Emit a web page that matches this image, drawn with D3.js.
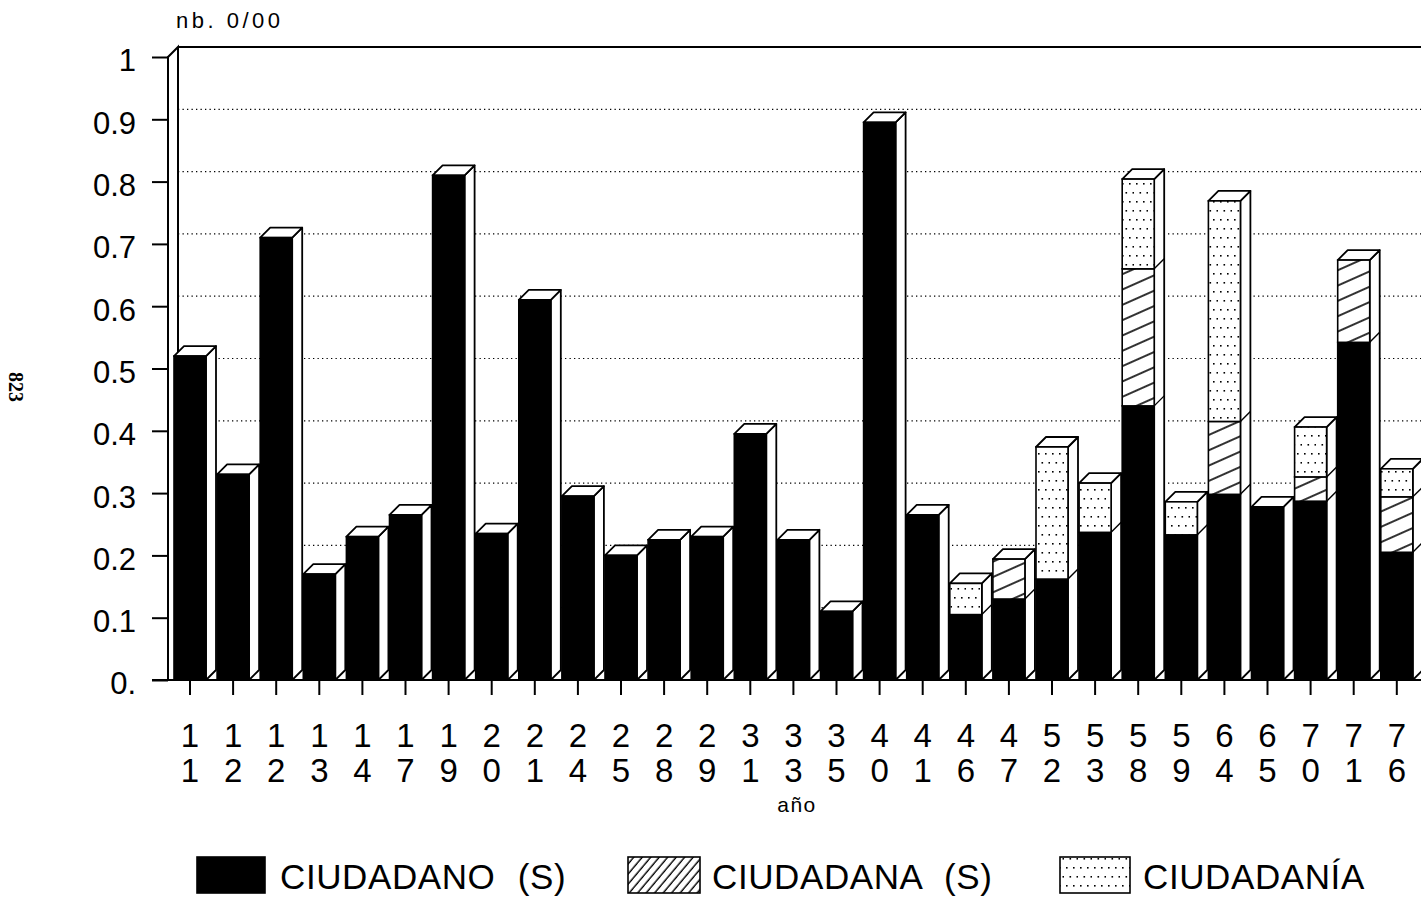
<!DOCTYPE html>
<html>
<head>
<meta charset="utf-8">
<script src="https://cdn.jsdelivr.net/npm/d3@7/dist/d3.min.js"></script>
<style>
  html, body { margin: 0; padding: 0; background: #fff; }
  svg { display: block; }
  text { font-family: "Liberation Sans", Arial, sans-serif; fill: #000; }
</style>
</head>
<body>
<svg id="chart" width="1421" height="898"></svg>
<script>
// ---- data ----
const categories = ["11","12","12","13","14","17","19","20","21","24","25","28","29","31","33","35","40","41","46","47","52","53","58","59","64","65","70","71","76"];
const ciudadano  = [0.52,0.33,0.71,0.17,0.23,0.265,0.81,0.235,0.61,0.295,0.20,0.225,0.23,0.395,0.225,0.11,0.895,0.265,0.105,0.13,0.162,0.237,0.44,0.233,0.298,0.278,0.287,0.542,0.205];
const ciudadana  = [0,0,0,0,0,0,0,0,0,0,0,0,0,0,0,0,0,0,0,0.064,0,0,0.22,0,0.117,0,0.039,0.132,0.089];
const ciudadania = [0,0,0,0,0,0,0,0,0,0,0,0,0,0,0,0,0,0,0.05,0,0.212,0.079,0.144,0.053,0.354,0,0.08,0,0.045];
const seriesNames = ["CIUDADANO (S)", "CIUDADANA (S)", "CIUDADANÍA"];
const yTickValues = [0,0.1,0.2,0.3,0.4,0.5,0.6,0.7,0.8,0.9,1];
const yTickLabels = ["0.","0.1","0.2","0.3","0.4","0.5","0.6","0.7","0.8","0.9","1"];

// ---- layout ----
const svg = d3.select("#chart");
const DX = 10, DY = 10;
const x = d3.scaleBand().domain(d3.range(categories.length)).range([168.45, 1418.35]).padding(0);
const y = d3.scaleLinear().domain([0, 1]).range([680, 57]);
const halfW = 16;

// patterns
const defs = svg.append("defs");
const hatchBar = defs.append("pattern").attr("id","hatchBar").attr("patternUnits","userSpaceOnUse")
  .attr("width", 12).attr("height", 14).attr("patternTransform","rotate(-24)");
hatchBar.append("rect").attr("width",12).attr("height",14).attr("fill","#fff");
hatchBar.append("line").attr("x1",0).attr("x2",12).attr("y1",7).attr("y2",7).attr("stroke","#000").attr("stroke-width",1.6);

const hatchLeg = defs.append("pattern").attr("id","hatchLeg").attr("patternUnits","userSpaceOnUse")
  .attr("width", 8).attr("height", 6.5).attr("patternTransform","rotate(-50)");
hatchLeg.append("rect").attr("width",8).attr("height",6.5).attr("fill","#fff");
hatchLeg.append("line").attr("x1",0).attr("x2",8).attr("y1",3).attr("y2",3).attr("stroke","#000").attr("stroke-width",1.4);

const dots = defs.append("pattern").attr("id","dots").attr("patternUnits","userSpaceOnUse")
  .attr("width", 14).attr("height", 18);
dots.append("rect").attr("width",14).attr("height",18).attr("fill","#fff");
[[2,3],[9,3],[5.5,12],[12.5,12]].forEach(([px,py]) =>
  dots.append("rect").attr("x",px).attr("y",py).attr("width",1.6).attr("height",1.6).attr("fill","#000"));

const fills = ["#000", "url(#hatchBar)", "url(#dots)"];
const legFills = ["#000", "url(#hatchLeg)", "url(#dots)"];

// ---- back wall frame ----
const right = 1421;
svg.append("line").attr("x1", 178).attr("x2", right).attr("y1", y(1)-DY).attr("y2", y(1)-DY)
  .attr("stroke","#000").attr("stroke-width",2);
svg.append("g").selectAll("line").data(yTickValues.filter(v => v > 0 && v < 1)).join("line")
  .attr("x1", 178).attr("x2", right)
  .attr("y1", d => y(d)-DY).attr("y2", d => y(d)-DY)
  .attr("stroke","#000").attr("stroke-width",1.2).attr("stroke-dasharray","1.3,3.2");
svg.append("path")
  .attr("d", `M168,${y(0)} L168,${y(1)} L178,${y(1)-DY} L178,${y(0)-DY}`)
  .attr("fill","#fff").attr("stroke","#000").attr("stroke-width",2);

// ---- y axis ----
const yAxis = d3.axisLeft(y).tickValues(yTickValues).tickSize(16).tickPadding(16)
  .tickFormat((d,i) => yTickLabels[i]);
const gy = svg.append("g").attr("transform","translate(168,0)").call(yAxis);
gy.select(".domain").remove();
gy.selectAll(".tick line").attr("stroke","#000").attr("stroke-width",2);
gy.selectAll(".tick text").attr("font-size", 31).attr("dy","0.45em")
  .style("font-family","'Liberation Sans', Arial, sans-serif");

// ---- bars ----
const gBars = svg.append("g");
categories.forEach((c, i) => {
  const cx = x(i) + x.bandwidth()/2;
  const x0 = cx - halfW, x1 = cx + halfW;
  const vals = [ciudadano[i], ciudadana[i], ciudadania[i]];
  let base = 0;
  const segs = [];
  vals.forEach((v, k) => { if (v > 0) { segs.push({k, b: base, t: base + v}); base += v; } });
  const total = base;
  const g = gBars.append("g");
  g.append("path")
    .attr("d", `M${x1},${y(0)} L${x1},${y(total)} L${x1+DX},${y(total)-DY} L${x1+DX},${y(0)-DY} Z`)
    .attr("fill","#fff").attr("stroke","#000").attr("stroke-width",1.8).attr("stroke-linejoin","round");
  g.append("path")
    .attr("d", `M${x0},${y(total)} L${x0+DX},${y(total)-DY} L${x1+DX},${y(total)-DY} L${x1},${y(total)} Z`)
    .attr("fill","#fff").attr("stroke","#000").attr("stroke-width",1.8).attr("stroke-linejoin","round");
  segs.forEach(s => {
    g.append("rect").attr("x", x0).attr("y", y(s.t)).attr("width", x1-x0).attr("height", y(s.b)-y(s.t))
      .attr("fill", fills[s.k]).attr("stroke","#000").attr("stroke-width",1.6);
    if (s.b > 0) {
      g.append("line").attr("x1", x1).attr("y1", y(s.b)).attr("x2", x1+DX).attr("y2", y(s.b)-DY)
        .attr("stroke","#000").attr("stroke-width",1.4);
    }
  });
});

// ---- x axis ----
svg.append("line").attr("x1",152).attr("x2",right).attr("y1",y(0)).attr("y2",y(0))
  .attr("stroke","#000").attr("stroke-width",2);
const xAxis = d3.axisBottom(x).tickSize(15).tickFormat(i => categories[i]);
const gx = svg.append("g").attr("transform",`translate(0,${y(0)})`).call(xAxis);
gx.select(".domain").remove();
gx.selectAll(".tick line").attr("stroke","#000").attr("stroke-width",2);
gx.selectAll(".tick text").each(function(i) {
  const t = d3.select(this);
  const s = categories[i];
  t.text(null).attr("y", 0).attr("dy", null)
    .attr("font-size", 33).style("font-family","'Liberation Sans', Arial, sans-serif");
  t.append("tspan").attr("x", 0).attr("y", 67).text(s[0]);
  t.append("tspan").attr("x", 0).attr("y", 102).text(s[1]);
});

// ---- titles ----
svg.append("text").attr("x", 797).attr("y", 812).attr("text-anchor","middle")
  .attr("font-size", 21).attr("letter-spacing", 1.5).text("año");
svg.append("text").attr("x", 176).attr("y", 28)
  .attr("font-size", 22).attr("letter-spacing", 3.5).text("nb. 0/00");
svg.append("text").attr("transform","translate(9,372) rotate(90)")
  .attr("font-size", 20).style("font-family","'Liberation Serif', serif").attr("font-weight","bold").text("823");

// ---- legend ----
const legX = [197, 628, 1060];
const legBoxW = [68, 72, 70];
const legTextX = [280, 712, 1143];
seriesNames.forEach((n, k) => {
  svg.append("rect").attr("x", legX[k]).attr("y", 857).attr("width", legBoxW[k]).attr("height", 36)
    .attr("fill", legFills[k]).attr("stroke","#000").attr("stroke-width",1.6);
  svg.append("text").attr("x", legTextX[k]).attr("y", 889).attr("font-size", 35)
    .attr("word-spacing", 12).attr("letter-spacing", 0.6).text(n);
});
</script>
</body>
</html>
